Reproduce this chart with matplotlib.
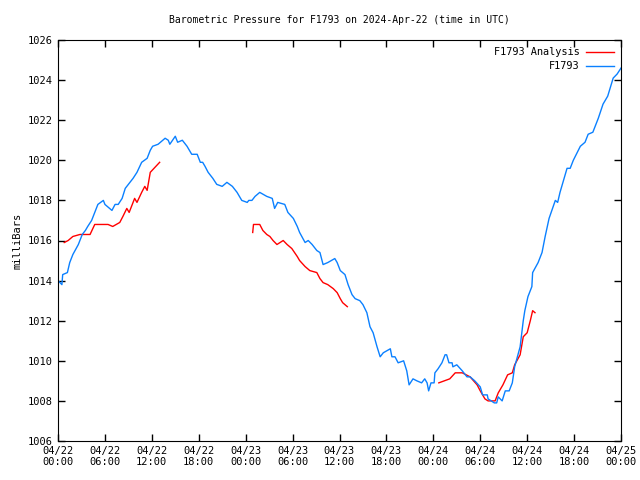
import matplotlib
matplotlib.use("Agg")
import numpy as np
import matplotlib.pyplot as plt

# hours since 2024-04-22 00:00 UTC, pressure in mb
obs_hours = [0.0, 0.5, 0.6, 1.2, 1.5, 1.9, 2.6, 3.1, 3.5, 3.8, 4.3, 4.7, 5.1,
             5.8, 6.0, 6.6, 6.9, 7.3, 7.7, 8.2, 8.6, 9.2, 9.6, 10.1, 10.7,
             11.4, 11.8, 12.1, 12.8, 13.7, 14.1, 14.3, 15.0, 15.3, 15.9, 16.5,
             17.1, 17.8, 18.2, 18.5, 18.8, 19.2, 19.8, 20.3, 21.0, 21.6, 22.3,
             22.9, 23.5, 24.2, 24.4, 24.8, 25.2, 25.8, 26.7, 27.4, 27.7, 28.1,
             29.0, 29.4, 30.1, 30.6, 30.9, 31.6, 32.0, 32.5, 33.1, 33.5, 33.9,
             34.5, 35.4, 35.7, 36.1, 36.7, 37.1, 37.6, 38.0, 38.6, 39.0, 39.5,
             39.9, 40.3, 40.8, 41.2, 41.6, 42.5, 42.7, 43.1, 43.5, 44.2, 44.6,
             44.9, 45.4, 45.9, 46.5, 46.9, 47.2, 47.4, 47.7, 48.1, 48.2, 48.6,
             49.1, 49.5, 49.7, 50.0, 50.4, 50.5, 51.0, 51.7, 52.3, 52.7, 53.3,
             54.0, 54.3, 54.9, 55.0, 55.8, 56.1, 56.3, 56.8, 57.2, 57.7, 58.1,
             58.4, 59.1, 59.5, 59.7, 60.1, 60.6, 60.7, 61.4, 61.9, 62.3, 62.8,
             63.6, 63.9, 64.2, 64.8, 65.1, 65.5, 65.9, 66.8, 67.4, 67.8, 68.4,
             69.1, 69.7, 70.3, 71.0, 71.5, 72.0]
obs_mb = [1014.0, 1013.8, 1014.3, 1014.4, 1014.9, 1015.3, 1015.8, 1016.3,
          1016.5, 1016.7, 1017.0, 1017.4, 1017.8, 1018.0, 1017.8, 1017.6,
          1017.5, 1017.8, 1017.8, 1018.1, 1018.6, 1018.9, 1019.1, 1019.4,
          1019.9, 1020.1, 1020.5, 1020.7, 1020.8, 1021.1, 1021.0, 1020.8,
          1021.2, 1020.9, 1021.0, 1020.7, 1020.3, 1020.3, 1019.9, 1019.9,
          1019.7, 1019.4, 1019.1, 1018.8, 1018.7, 1018.9, 1018.7, 1018.4,
          1018.0, 1017.9, 1018.0, 1018.0, 1018.2, 1018.4, 1018.2, 1018.1,
          1017.6, 1017.9, 1017.8, 1017.4, 1017.1, 1016.7, 1016.4, 1015.9,
          1016.0, 1015.8, 1015.5, 1015.4, 1014.8, 1014.9, 1015.1, 1014.9,
          1014.5, 1014.3, 1013.8, 1013.3, 1013.1, 1013.0, 1012.8, 1012.4,
          1011.7, 1011.4, 1010.7, 1010.2, 1010.4, 1010.6, 1010.2, 1010.2,
          1009.9, 1010.0, 1009.5, 1008.8, 1009.1, 1009.0, 1008.9, 1009.1,
          1008.9, 1008.5, 1008.9, 1008.9, 1009.4, 1009.6, 1009.9, 1010.3,
          1010.3, 1009.9, 1009.9, 1009.7, 1009.8, 1009.5, 1009.2, 1009.2,
          1009.0, 1008.7, 1008.3, 1008.3, 1008.1, 1007.9, 1007.9, 1008.2,
          1008.0, 1008.5, 1008.5, 1008.9, 1009.7, 1010.7, 1012.0, 1012.5,
          1013.2, 1013.7, 1014.4, 1014.9, 1015.4, 1016.2, 1017.1, 1018.0,
          1017.9, 1018.4, 1019.2, 1019.6, 1019.6, 1020.0, 1020.7, 1020.9,
          1021.3, 1021.4, 1022.1, 1022.8, 1023.2, 1024.1, 1024.3, 1024.6]

# analysis runs (three separate segments)
an1_hours = [0.8, 1.3, 1.9, 2.8, 4.1, 4.7, 6.4, 7.0, 7.9, 8.3, 8.8, 9.1, 9.8,
             10.1, 10.7, 11.1, 11.4, 11.8, 13.0]
an1_mb = [1015.9, 1016.0, 1016.2, 1016.3, 1016.3, 1016.8, 1016.8, 1016.7,
          1016.9, 1017.2, 1017.6, 1017.4, 1018.1, 1017.9, 1018.4, 1018.7,
          1018.5, 1019.4, 1019.9]
an2_hours = [24.9, 25.0, 25.4, 25.8, 26.2, 26.7, 27.1, 27.5, 28.0, 28.8, 29.3,
             29.9, 30.6, 30.9, 31.6, 32.2, 33.1, 33.5, 33.9, 34.5, 35.2, 35.7,
             36.1, 36.4, 37.0]
an2_mb = [1016.4, 1016.8, 1016.8, 1016.8, 1016.5, 1016.3, 1016.2, 1016.0,
          1015.8, 1016.0, 1015.8, 1015.6, 1015.2, 1015.0, 1014.7, 1014.5,
          1014.4, 1014.1, 1013.9, 1013.8, 1013.6, 1013.4, 1013.1, 1012.9,
          1012.7]
an3_hours = [48.7, 50.1, 50.8, 51.7, 52.7, 53.6, 54.0, 54.6, 55.0, 55.9, 56.3,
             56.9, 57.5, 58.1, 58.4, 59.1, 59.5, 60.0, 60.4, 60.7, 61.0]
an3_mb = [1008.9, 1009.1, 1009.4, 1009.4, 1009.2, 1008.8, 1008.5, 1008.1,
          1008.0, 1008.0, 1008.4, 1008.8, 1009.3, 1009.4, 1009.8, 1010.3,
          1011.2, 1011.4, 1012.0, 1012.5, 1012.4]

tick_hours = [0, 6, 12, 18, 24, 30, 36, 42, 48, 54, 60, 66, 72]
tick_labels = ['04/22\n00:00', '04/22\n06:00', '04/22\n12:00', '04/22\n18:00',
               '04/23\n00:00', '04/23\n06:00', '04/23\n12:00', '04/23\n18:00',
               '04/24\n00:00', '04/24\n06:00', '04/24\n12:00', '04/24\n18:00',
               '04/25\n00:00']

plt.rcParams['font.family'] = 'DejaVu Sans Mono'
plt.rcParams['font.size'] = 7.5

fig = plt.figure(figsize=(6.4, 4.8), dpi=100)
ax = fig.add_axes([58 / 640, 39 / 480, 563 / 640, 401 / 480])

red = '#ff0000'
blue = '#0a80ff'
ax.plot(an1_hours, an1_mb, color=red, lw=1, label='F1793 Analysis')
ax.plot(an2_hours, an2_mb, color=red, lw=1)
ax.plot(an3_hours, an3_mb, color=red, lw=1)
ax.plot(obs_hours, obs_mb, color=blue, lw=1, label='F1793')

ax.set_xlim(0, 72)
ax.set_ylim(1006, 1026)
ax.set_xticks(tick_hours)
ax.set_xticklabels(tick_labels)
ax.set_yticks(np.arange(1006, 1027, 2))
ax.tick_params(direction='in', top=True, right=True, length=5, width=1)
ax.set_ylabel('milliBars')
ax.set_title('Barometric Pressure for F1793 on 2024-Apr-22 (time in UTC)',
             fontsize=7, pad=12)

leg = ax.legend(loc='upper right', frameon=False, markerfirst=False,
                handlelength=2.7, handletextpad=0.6, borderaxespad=0.3,
                labelspacing=0.4, fontsize=7.4)

fig.savefig('out.png', dpi=100)
